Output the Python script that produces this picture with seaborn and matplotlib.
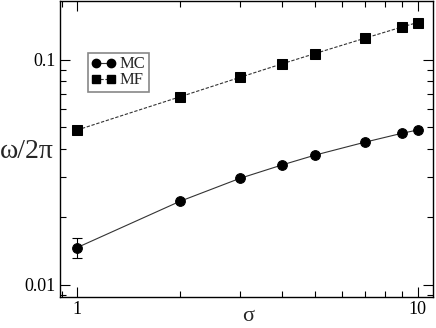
import matplotlib
matplotlib.use("Agg")
import matplotlib.pyplot as plt
import seaborn as sns
import pandas as pd
import numpy as np
from matplotlib.ticker import LogLocator, NullFormatter, FixedLocator, FixedFormatter
from matplotlib.lines import Line2D

sigma = [1, 2, 3, 4, 5, 7, 9, 10]
mc_vals = [0.0146, 0.0234, 0.0296, 0.0340, 0.0376, 0.0429, 0.0470, 0.0486]
mc_err = [0.0015, 0, 0, 0, 0, 0, 0, 0]
mf_vals = [0.0486, 0.0682, 0.0832, 0.0957, 0.1063, 0.1243, 0.1395, 0.1460]

df = pd.DataFrame({
    "sigma": sigma * 2,
    "omega": mc_vals + mf_vals,
    "series": ["MC"] * len(sigma) + ["MF"] * len(sigma),
})

sns.set_style("ticks")
plt.rcParams["font.family"] = ["Liberation Serif", "DejaVu Serif"]

fig = plt.figure(figsize=(4.36, 3.28), dpi=100)
ax = fig.add_axes([0.1376, 0.0945, 0.8555, 0.9025])

sns.lineplot(data=df, x="sigma", y="omega", hue="series", style="series",
             markers={"MC": "o", "MF": "s"}, dashes={"MC": "", "MF": (3, 1.5)},
             palette={"MC": "black", "MF": "black"}, markersize=7,
             linewidth=0.8, markeredgecolor="black", ax=ax, legend=False)
for line in ax.get_lines():
    line.set_color("#333333")
    line.set_markerfacecolor("black")
    line.set_markeredgecolor("black")

ex = [s for s, e in zip(sigma, mc_err) if e > 0]
ey = [v for v, e in zip(mc_vals, mc_err) if e > 0]
ee = [e for e in mc_err if e > 0]
ax.errorbar(ex, ey, yerr=ee, fmt="none", ecolor="black", elinewidth=0.8,
            capsize=3.5, capthick=0.8)

ax.set_xscale("log")
ax.set_yscale("log")
ax.set_xlim(0.89, 11.1)
ax.set_ylim(0.0088, 0.182)

ax.xaxis.set_major_locator(FixedLocator([1, 10]))
ax.xaxis.set_major_formatter(FixedFormatter(["1", "10"]))
ax.xaxis.set_minor_locator(LogLocator(base=10, subs=np.arange(2, 10)))
ax.xaxis.set_minor_formatter(NullFormatter())
ax.yaxis.set_major_locator(FixedLocator([0.01, 0.1]))
ax.yaxis.set_major_formatter(FixedFormatter(["0.01", "0.1"]))
ax.yaxis.set_minor_locator(LogLocator(base=10, subs=np.arange(2, 10)))
ax.yaxis.set_minor_formatter(NullFormatter())

ax.tick_params(which="both", direction="in", top=True, right=True,
               colors="black", labelsize=13, width=0.8)
ax.tick_params(which="major", length=7, pad=3)
ax.tick_params(which="minor", length=4)
for sp in ax.spines.values():
    sp.set_linewidth(1.0)
    sp.set_color("black")
    sp.set_visible(True)

ax.set_xlabel("σ", fontsize=16, va="center")
ax.xaxis.set_label_coords(0.504, -0.065)
ax.set_ylabel("ω/2π", fontsize=20, rotation=0, va="center", ha="center")
ax.yaxis.set_label_coords(-0.088, 0.49)

handles = [
    Line2D([], [], color="#333333", marker="o", markersize=6, linestyle="-", linewidth=0.8,
           markerfacecolor="black", markeredgecolor="black"),
    Line2D([], [], color="#333333", marker="s", markersize=5.5, linestyle=(0, (2.5, 1.5)), linewidth=0.8,
           markerfacecolor="black", markeredgecolor="black"),
]
leg = ax.legend(handles, ["MC", "MF"], loc="upper left", bbox_to_anchor=(0.075, 0.824),
                borderaxespad=0, fontsize=12, numpoints=2, handlelength=1.5,
                handletextpad=0.2, borderpad=0.2, labelspacing=0.0, fancybox=False,
                framealpha=1, edgecolor="#888888")
leg.get_frame().set_linewidth(1.2)

fig.savefig("out.png", dpi=100)
